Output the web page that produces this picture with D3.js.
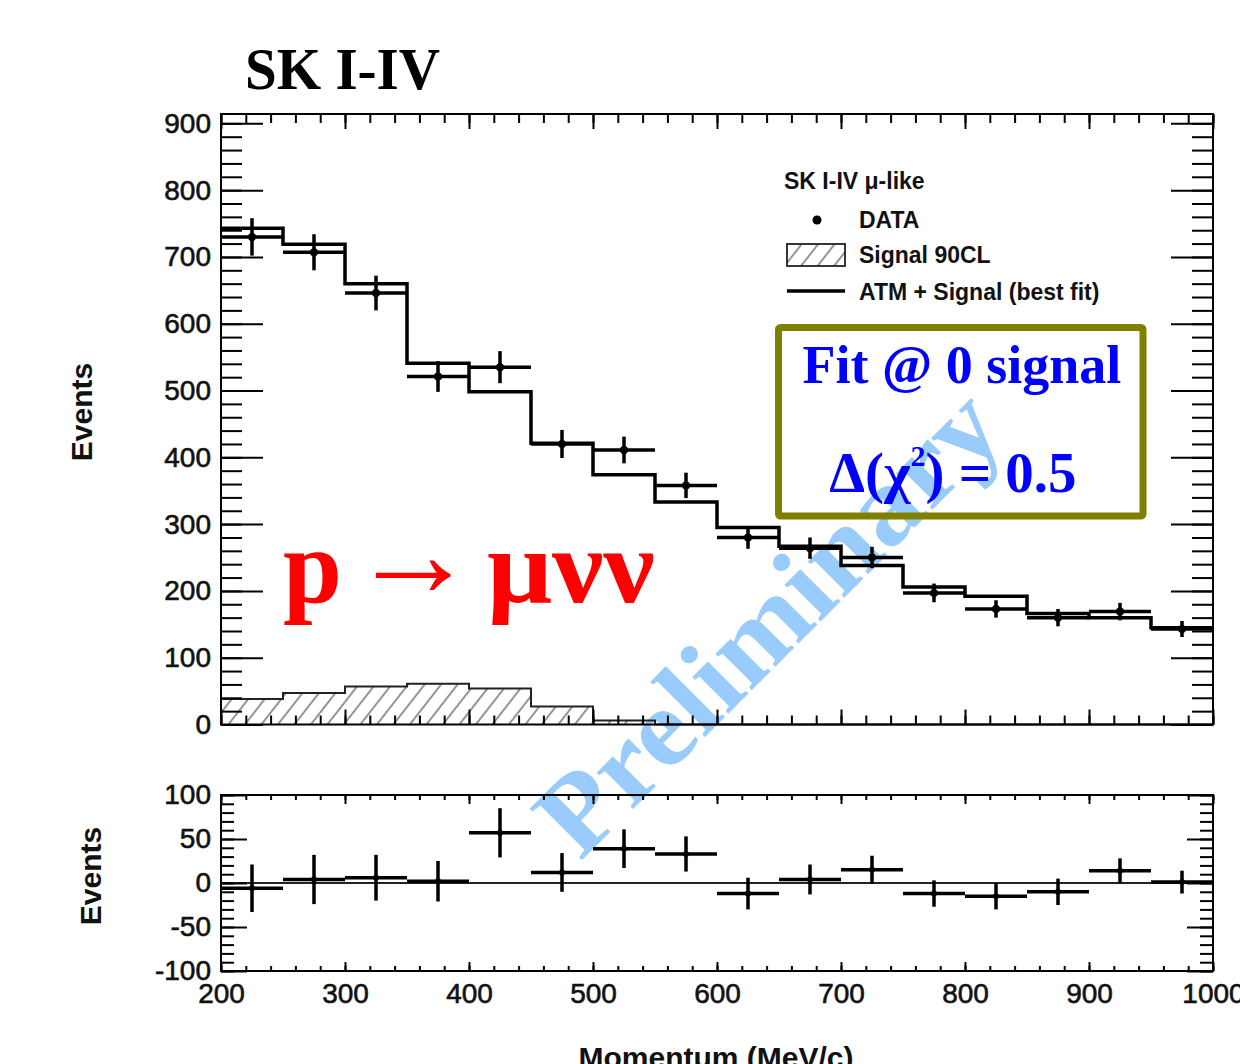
<!DOCTYPE html>
<html>
<head>
<meta charset="utf-8">
<script src="https://cdn.jsdelivr.net/npm/d3@7"></script>
<style>
  body { margin: 0; background: #fff; }
  svg { display: block; }
</style>
</head>
<body>
<script>
const panel_width = 1240;
const panel_height = 1064;

// momentum bins (lower edges, MeV/c), 50 wide
const binLow = [200, 250, 300, 350, 400, 450, 500, 550, 600, 650, 700, 750, 800, 850, 900, 950];
const binWidth = 50;

// top panel
const dataCounts = [730, 707, 646, 521, 535, 420, 411, 358, 280, 264, 250, 197, 173, 160, 169, 143];
const dataErrors = [28, 27, 26, 23, 24, 21, 20, 19, 17, 16, 16, 14, 13, 13, 13, 12];
const bestFit = [743, 719, 660, 541, 498, 421, 374, 333, 295, 267, 238, 206, 192, 166, 160, 145];
const signal90 = [38, 47, 57, 61, 54, 27, 6, 0, 0, 0, 0, 0, 0, 0, 0, 0];

// bottom panel
const residuals = [-6, 4, 6, 2, 57, 12, 39, 33, -12, 4, 15, -12, -15, -10, 14, 1];
const residualErrors = [27, 28, 26, 23, 28, 22, 22, 20, 18, 17, 16, 15, 15, 15, 14, 13];

const topTicks = [0, 100, 200, 300, 400, 500, 600, 700, 800, 900];
const bottomTicks = [-100, -50, 0, 50, 100];
const xTicks = [200, 300, 400, 500, 600, 700, 800, 900, 1000];

const tickFont = "Liberation Sans, Arial, sans-serif";

window.addEventListener("load", drawChart);

function drawChart() {
    const svg = d3.select("body")
        .append("svg")
        .attr("width", panel_width)
        .attr("height", panel_height);

    svg.append("defs").append("pattern")
        .attr("id", "hatch")
        .attr("patternUnits", "userSpaceOnUse")
        .attr("width", 13)
        .attr("height", 13)
        .attr("patternTransform", "rotate(38)")
        .append("line")
        .attr("x1", 2).attr("y1", 0)
        .attr("x2", 2).attr("y2", 13)
        .attr("stroke", "#7a7a7a")
        .attr("stroke-width", 1.6);

    const x = d3.scaleLinear().domain([200, 1000]).range([221, 1213]);
    const yTop = d3.scaleLinear().domain([0, 914]).range([724.5, 114]);
    const yBot = d3.scaleLinear().domain([-100, 100]).range([971, 795]);

    // watermark sits behind everything
    svg.append("text")
        .attr("transform", "translate(580,862) rotate(-45)")
        .attr("font-family", "Liberation Serif, serif")
        .attr("font-weight", "bold")
        .attr("font-size", 112)
        .attr("fill", "#99ccfa")
        .attr("textLength", 606)
        .attr("lengthAdjust", "spacingAndGlyphs")
        .text("Preliminary");

    // ---- top panel ----
    const stepPoints = values => values.map((v, i) => [binLow[i], v])
        .concat([[binLow[binLow.length - 1] + binWidth, values[values.length - 1]]]);

    const sigArea = d3.area()
        .x(d => x(d[0]))
        .y0(yTop(0))
        .y1(d => yTop(d[1]))
        .curve(d3.curveStepAfter);

    const stepLine = yScale => d3.line()
        .x(d => x(d[0]))
        .y(d => yScale(d[1]))
        .curve(d3.curveStepAfter);

    svg.append("path")
        .attr("d", sigArea(stepPoints(signal90)))
        .attr("fill", "url(#hatch)");

    svg.append("path")
        .attr("d", stepLine(yTop)(stepPoints(signal90)))
        .attr("fill", "none")
        .attr("stroke", "#222")
        .attr("stroke-width", 2);

    svg.append("path")
        .attr("d", stepLine(yTop)(stepPoints(bestFit)))
        .attr("fill", "none")
        .attr("stroke", "#000")
        .attr("stroke-width", 3.5);

    drawPoints(svg, x, yTop, dataCounts, dataErrors, 4);

    drawFrame(svg, x, yTop, {
        yMajor: topTicks, yMinor: d3.range(0, 901, 20),
        yMajorLen: 42, yMinorLen: 21, xMajorLen: 15, xMinorLen: 9,
        xMinor: d3.range(200, 1001, 20), xLabels: false
    });

    // ---- bottom panel ----
    svg.append("line")
        .attr("x1", x(200)).attr("x2", x(1000))
        .attr("y1", yBot(0)).attr("y2", yBot(0))
        .attr("stroke", "#222")
        .attr("stroke-width", 2);

    drawPoints(svg, x, yBot, residuals, residualErrors, 3);

    drawFrame(svg, x, yBot, {
        yMajor: bottomTicks, yMinor: d3.range(-100, 101, 10),
        yMajorLen: 26, yMinorLen: 13, xMajorLen: 9, xMinorLen: 5,
        xMinor: d3.range(200, 1001, 20), xLabels: true
    });

    // ---- axis titles ----
    [[92, 412], [101, 876]].forEach(([tx, ty]) => {
        svg.append("text")
            .attr("transform", `translate(${tx},${ty}) rotate(-90)`)
            .attr("text-anchor", "middle")
            .attr("font-family", tickFont)
            .attr("font-weight", "bold")
            .attr("font-size", 30)
            .attr("fill", "#111")
            .text("Events");
    });

    svg.append("text")
        .attr("x", 716)
        .attr("y", 1068)
        .attr("text-anchor", "middle")
        .attr("font-family", tickFont)
        .attr("font-weight", "bold")
        .attr("font-size", 30)
        .attr("fill", "#111")
        .text("Momentum (MeV/c)");

    // ---- title ----
    svg.append("text")
        .attr("x", 245)
        .attr("y", 89)
        .attr("font-family", "Liberation Serif, serif")
        .attr("font-weight", "bold")
        .attr("font-size", 60)
        .attr("textLength", 195)
        .attr("lengthAdjust", "spacingAndGlyphs")
        .attr("fill", "#000")
        .text("SK I-IV");

    // ---- legend ----
    const legend = svg.append("g")
        .attr("font-family", tickFont)
        .attr("font-weight", "bold")
        .attr("font-size", 23)
        .attr("fill", "#111");

    legend.append("text").attr("x", 784).attr("y", 189).text("SK I-IV \u03bc-like");
    legend.append("circle").attr("cx", 817).attr("cy", 220).attr("r", 4.5).attr("fill", "#000");
    legend.append("text").attr("x", 859).attr("y", 228).text("DATA");
    legend.append("rect")
        .attr("x", 787).attr("y", 244).attr("width", 58).attr("height", 22)
        .attr("fill", "url(#hatch)")
        .attr("stroke", "#222").attr("stroke-width", 1.8);
    legend.append("text").attr("x", 859).attr("y", 263).text("Signal 90CL");
    legend.append("line")
        .attr("x1", 787).attr("x2", 845).attr("y1", 291).attr("y2", 291)
        .attr("stroke", "#000").attr("stroke-width", 3.5);
    legend.append("text").attr("x", 859).attr("y", 300).text("ATM + Signal (best fit)");

    // ---- fit box ----
    svg.append("rect")
        .attr("x", 778.5).attr("y", 327.5)
        .attr("width", 364.5).attr("height", 188.5)
        .attr("rx", 2)
        .attr("fill", "none")
        .attr("stroke", "#808000")
        .attr("stroke-width", 7);

    const boxText = svg.append("g")
        .attr("font-family", "Liberation Serif, serif")
        .attr("font-weight", "bold")
        .attr("font-size", 54)
        .attr("fill", "#0000ff")
        .attr("text-anchor", "middle");

    boxText.append("text").attr("x", 962).attr("y", 383).text("Fit @ 0 signal");

    const chi = boxText.append("text").attr("x", 953).attr("y", 492).attr("font-size", 57);
    chi.append("tspan").text("\u0394(\u03c7");
    chi.append("tspan").attr("dy", -26).attr("font-size", 30).text("2");
    chi.append("tspan").attr("dy", 26).text(") = 0.5");

    // ---- decay channel ----
    const decay = svg.append("g")
        .attr("font-family", "Liberation Serif, serif")
        .attr("font-weight", "bold")
        .attr("fill", "#ff0000");
    decay.append("text").attr("x", 283).attr("y", 602).attr("font-size", 106).text("p");
    decay.append("text").attr("x", 350).attr("y", 596).attr("font-size", 126).text("\u2192");
    decay.append("text").attr("x", 487).attr("y", 602).attr("font-size", 106)
        .attr("textLength", 168).attr("lengthAdjust", "spacingAndGlyphs")
        .text("\u03bc\u03bd\u03bd");
}

function drawPoints(svg, x, y, values, errors, r) {
    const g = svg.append("g").attr("stroke", "#000").attr("stroke-width", 3.5);
    values.forEach((v, i) => {
        const lo = binLow[i];
        const mid = lo + binWidth / 2;
        g.append("line")
            .attr("x1", x(lo)).attr("x2", x(lo + binWidth))
            .attr("y1", y(v)).attr("y2", y(v));
        g.append("line")
            .attr("x1", x(mid)).attr("x2", x(mid))
            .attr("y1", y(v - errors[i])).attr("y2", y(v + errors[i]));
        g.append("circle")
            .attr("cx", x(mid)).attr("cy", y(v)).attr("r", r)
            .attr("fill", "#000").attr("stroke", "none");
    });
}

// ROOT style frame: ticks on all four sides pointing inward, labels left and bottom
function drawFrame(svg, x, y, o) {
    const [x0, x1] = x.range();
    const [yb, yt] = y.range();

    const axes = [
        [d3.axisLeft(y).tickValues(o.yMinor).tickSize(-o.yMinorLen), x0, 0],
        [d3.axisRight(y).tickValues(o.yMinor).tickSize(-o.yMinorLen), x1, 0],
        [d3.axisRight(y).tickValues(o.yMajor).tickSize(-o.yMajorLen), x1, 0],
        [d3.axisTop(x).tickValues(o.xMinor).tickSize(-o.xMinorLen), 0, yt],
        [d3.axisTop(x).tickValues(xTicks).tickSize(-o.xMajorLen), 0, yt],
        [d3.axisBottom(x).tickValues(o.xMinor).tickSize(-o.xMinorLen), 0, yb]
    ];

    axes.forEach(([axis, tx, ty]) => {
        const g = svg.append("g")
            .attr("transform", `translate(${tx},${ty})`)
            .call(axis.tickFormat(""));
        g.select(".domain").remove();
        g.selectAll("line").attr("stroke", "#000").attr("stroke-width", 2);
    });

    const left = svg.append("g").attr("transform", `translate(${x0},0)`)
        .call(d3.axisLeft(y).tickValues(o.yMajor).tickSize(-o.yMajorLen).tickPadding(10)
            .tickFormat(d => String(d)));

    const bottom = svg.append("g").attr("transform", `translate(0,${yb})`)
        .call(d3.axisBottom(x).tickValues(xTicks).tickSize(-o.xMajorLen).tickPadding(12)
            .tickFormat(d => o.xLabels ? String(d) : ""));

    [left, bottom].forEach(g => {
        g.select(".domain").remove();
        g.selectAll("line").attr("stroke", "#000").attr("stroke-width", 2);
        g.selectAll("text")
            .attr("font-family", tickFont)
            .attr("font-size", 28)
            .attr("fill", "#111")
            .attr("stroke", "#111")
            .attr("stroke-width", 0.6);
    });

    svg.append("rect")
        .attr("x", x0).attr("y", yt)
        .attr("width", x1 - x0).attr("height", yb - yt)
        .attr("fill", "none")
        .attr("stroke", "#000")
        .attr("stroke-width", 2);
}
</script>
</body>
</html>
